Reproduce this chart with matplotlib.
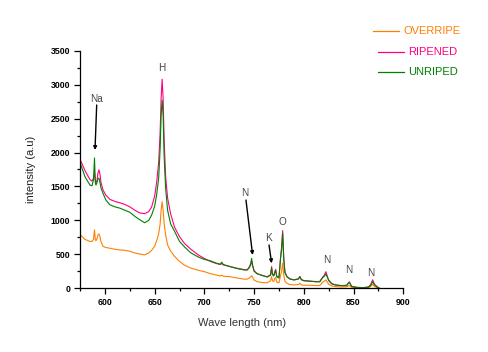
import matplotlib
matplotlib.use("Agg")
import matplotlib.pyplot as plt
from matplotlib.ticker import MultipleLocator

plt.rcParams['font.family'] = ['Liberation Sans', 'DejaVu Sans']

wavelength = [575, 580, 585, 587, 588.5, 589.5, 590.3, 591, 592, 593, 594, 595, 596, 598, 601, 605,
              610, 615, 620, 625, 630, 635, 640, 644, 647, 650, 652, 654, 655.5, 656.5, 657.5, 658.5,
              659.5, 661, 663, 666, 670, 675, 680, 686, 694, 700, 706, 712, 716, 717.5, 719, 726, 733,
              740, 743, 745, 746.5, 747.5, 748.5, 750, 753, 758, 763, 766.5, 767.6, 768.5, 769.8, 770.7,
              771.7, 772.7, 775, 776.7, 777.6, 778.7, 779.8, 781, 783, 786, 790, 794.5, 796, 797.5, 800,
              806, 812, 816, 819, 820.5, 822.2, 823.5, 825, 828, 832, 838, 843, 845.7, 848, 853, 860,
              865, 867, 869.2, 871, 874, 876]

ripened = [1900, 1730, 1600, 1580, 1620, 1700, 1600, 1560, 1580, 1700, 1745, 1680, 1560, 1450, 1370, 1310,
           1280, 1260, 1235, 1200, 1150, 1110, 1100, 1130, 1200, 1360, 1560, 1850, 2300, 2800, 3080, 2800,
           2200, 1650, 1330, 1100, 900, 760, 660, 580, 490, 440, 395, 365, 350, 365, 345, 320, 295,
           275, 270, 300, 340, 400, 330, 260, 215, 190, 170, 200, 320, 210, 190, 240,
           280, 180, 160, 470, 600, 850, 450, 240, 175, 140, 125, 140, 175, 130, 115,
           105, 100, 100, 165, 190, 245, 180, 120, 70, 50, 40, 45, 95, 30, 15, 10,
           20, 50, 125, 60, 20, 0]

unriped = [1850, 1640, 1520, 1510, 1600, 1920, 1560, 1520, 1560, 1620, 1620, 1560, 1480, 1400, 1300, 1230,
           1200, 1180, 1150, 1120, 1060, 1010, 965, 1000, 1080, 1210, 1380, 1620, 2050, 2550, 2770, 2550,
           1950, 1480, 1150, 950, 840, 690, 610, 525, 460, 425, 405, 370, 355, 385, 350, 318, 290,
           270, 270, 310, 360, 440, 340, 250, 215, 190, 165, 190, 295, 200, 180, 230,
           260, 170, 150, 460, 560, 810, 420, 230, 170, 135, 122, 135, 170, 125, 110,
           105, 95, 95, 160, 175, 211, 170, 115, 65, 48, 38, 40, 88, 28, 12, 8,
           18, 40, 97, 50, 15, 0]

overripe = [790, 720, 690, 690, 720, 860, 720, 700, 730, 790, 800, 760, 690, 620, 600, 590,
            575, 565, 560, 545, 520, 505, 492, 520, 560, 620, 700, 800, 950, 1150, 1276, 1150,
            960, 790, 640, 550, 470, 395, 340, 300, 265, 245, 215, 195, 182, 192, 178, 170, 150,
            135, 135, 150, 170, 185, 160, 120, 97, 85, 80, 110, 170, 110, 100, 140,
            160, 90, 80, 196, 250, 368, 200, 100, 74, 55, 49, 55, 74, 50, 45,
            44, 40, 40, 90, 105, 122, 95, 60, 35, 25, 20, 22, 40, 15, 8, 5,
            10, 25, 59, 25, 8, 0]

series_names = ["OVERRIPE", "RIPENED", "UNRIPED"]
series_colors = ["#FF8000", "#FF0080", "#008000"]

# annotations: label, text position (wl, intensity), arrow start/end or None
ann_labels = ["Na", "H", "N", "K", "O", "N", "N", "N"]
ann_text_x = [591.7, 657, 740.8, 764.2, 778.7, 823, 845.4, 867.2]
ann_text_y = [2790, 3240, 1408, 737, 981, 417, 270, 221]
ann_arrow_start = [(591.7, 2700), None, (741.8, 1300), (765, 638), None, None, None, None]
ann_arrow_end = [(590, 2037), None, (748.5, 490), (767.6, 368), None, None, None, None]

fig = plt.figure(figsize=(4.88, 3.52), dpi=100)
ax = fig.add_axes([0.1641, 0.181, 0.6623, 0.675])

data = [overripe, ripened, unriped]
for vals, name, col in zip(data, series_names, series_colors):
    ax.plot(wavelength, vals, color=col, lw=0.8, label=name)

ax.set_ylim(0, 3500)
ax.xaxis.set_major_locator(MultipleLocator(50))
ax.xaxis.set_minor_locator(MultipleLocator(25))
ax.yaxis.set_major_locator(MultipleLocator(500))
ax.yaxis.set_minor_locator(MultipleLocator(250))
for s in ['top', 'right']:
    ax.spines[s].set_visible(False)
for s in ['left', 'bottom']:
    ax.spines[s].set_linewidth(0.9)
ax.tick_params(which='major', direction='out', length=4, width=0.9, labelsize=6.3, pad=3)
ax.tick_params(which='minor', direction='out', length=2.5, width=0.9)
ax.set_xticks([600, 650, 700, 750, 800, 850, 900])
ax.set_xlim(575, 900)
for lab in ax.get_xticklabels() + ax.get_yticklabels():
    lab.set_fontweight('bold')

ax.set_xlabel("Wave length (nm)", fontsize=8, color='#333333', labelpad=8)
ax.set_ylabel("intensity (a.u)", fontsize=8, color='#222222', labelpad=11)

for i, lab in enumerate(ann_labels):
    ax.text(ann_text_x[i], ann_text_y[i], lab, fontsize=7.2, color='#444444', ha='center', va='center')
    if ann_arrow_start[i] is not None:
        ax.annotate("", xy=ann_arrow_end[i], xytext=ann_arrow_start[i],
                    arrowprops=dict(arrowstyle='-|>', color='black', lw=1.0,
                                    mutation_scale=5, shrinkA=0, shrinkB=0))

# legend drawn manually in figure coords
leg_y = [31, 52, 72]
leg_x0 = [373, 378, 378]
for i, (name, col) in enumerate(zip(series_names, series_colors)):
    y = 1 - leg_y[i] / 352
    fig.add_artist(plt.Line2D([leg_x0[i] / 488, (leg_x0[i] + 26) / 488], [y, y], color=col, lw=0.9))
    fig.text((leg_x0[i] + 30) / 488, y, name, color=col, fontsize=8, va='center', ha='left')

fig.savefig("out.png", dpi=100)
